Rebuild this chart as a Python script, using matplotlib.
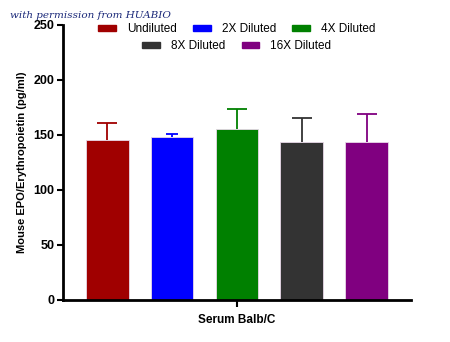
import matplotlib
matplotlib.use('Agg')
import matplotlib.pyplot as plt
from matplotlib.patches import Patch

groups = ['Undiluted', '2X Diluted', '4X Diluted', '8X Diluted', '16X Diluted']
means = [145.5, 148, 155.5, 143.5, 143.5]
errs = [15, 3, 18.5, 22, 26]
colors = ['#A00000', '#0000FF', '#008000', '#333333', '#800080']
caps = [7.5, 4.5, 7.5, 7.5, 7.5]

plt.rcParams['font.family'] = ['Liberation Sans', 'DejaVu Sans']

fig = plt.figure(figsize=(4.5, 3.42), dpi=100)
ax = fig.add_axes([0.14, 0.123, 0.773, 0.804])

x = list(range(len(groups)))
for i in x:
    ax.bar(i, means[i], width=0.66, color=colors[i], edgecolor='#e8d8e8',
           linewidth=0.6, zorder=2)
    _, caplines, _ = ax.errorbar(i, means[i], yerr=[[0], [errs[i]]], fmt='none',
                                 ecolor=colors[i], elinewidth=1.3,
                                 capsize=caps[i], capthick=1.3, zorder=3)
    caplines[0].set_visible(False)  # only the upper cap

ax.set_xlim(-0.68, 4.68)
ax.set_ylim(0, 250)
ax.set_yticks([0, 50, 100, 150, 200, 250])
ax.set_xticks([2])
ax.set_xticklabels(['Serum Balb/C'], fontweight='bold', fontsize=8.5)
for lbl in ax.get_yticklabels():
    lbl.set_fontweight('bold')
    lbl.set_fontsize(9)
ax.tick_params(width=1.5, length=4, pad=2)
ax.tick_params(axis='x', length=5, pad=5)
ax.set_ylabel('Mouse EPO/Erythropoietin (pg/ml)', fontweight='bold',
              fontsize=8, labelpad=5)
for s in ['top', 'right']:
    ax.spines[s].set_visible(False)
for s in ['left', 'bottom']:
    ax.spines[s].set_linewidth(2)

handles = [Patch(color=c) for c in colors]
leg_kw = dict(loc='center', frameon=False, fontsize=8.5, handlelength=1.5,
              handleheight=0.45, columnspacing=1.35, handletextpad=0.95)
leg1 = ax.legend(handles[:3], groups[:3], ncol=3,
                 bbox_to_anchor=(0.5, 0.985), **leg_kw)
ax.add_artist(leg1)
ax.legend(handles[3:], groups[3:], ncol=2,
          bbox_to_anchor=(0.5, 0.923), **leg_kw)

fig.text(0.022, 0.948, 'with permission from HUABIO', family='DejaVu Serif',
         style='italic', fontsize=7.5, color='#1c2a7a')

fig.savefig('out.png', dpi=100)
